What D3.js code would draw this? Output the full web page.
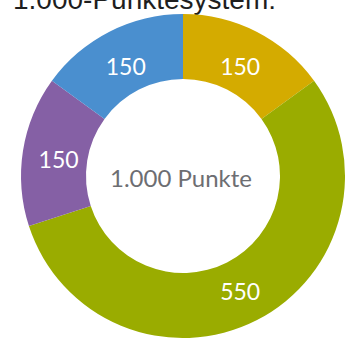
<!DOCTYPE html>
<html>
<head>
<meta charset="utf-8">
<script src="https://cdn.jsdelivr.net/npm/d3@7"></script>
<style>
  html, body { margin: 0; padding: 0; background: #fff; overflow: hidden; }
</style>
</head>
<body>
<div id="chart"></div>
<script>
// Punkteverteilung
const categories = ["A", "B", "C", "D"];
const values = [150, 550, 150, 150];
const colors = ["#d4ab00", "#9aac00", "#8560a5", "#4a8fcf"];
const title = "1.000-Punktesystem:";
const centerLabel = "1.000 Punkte";

const width = 345, height = 338;
const cx = 183, cy = 176;
const outerR = 162, innerR = 97;

const svg = d3.select("#chart").append("svg")
  .attr("width", width)
  .attr("height", height);

// title is cropped at the top edge, as in the source image
svg.append("text")
  .attr("x", 13)
  .attr("y", 9)
  .style("font-family", "Liberation Sans, Arial, sans-serif")
  .style("font-size", "28px")
  .style("fill", "#1e1e1e")
  .text(title);

const pie = d3.pie().sort(null).value(function (d) { return d; });
const arc = d3.arc().innerRadius(innerR).outerRadius(outerR);
const labelArc = d3.arc().innerRadius(126).outerRadius(126);

const g = svg.append("g")
  .attr("transform", "translate(" + cx + "," + cy + ")");

const arcs = pie(values);

g.selectAll("path")
  .data(arcs)
  .enter().append("path")
  .attr("d", arc)
  .attr("fill", function (d, i) { return colors[i]; });

g.selectAll("text.val")
  .data(arcs)
  .enter().append("text")
  .attr("class", "val")
  .attr("transform", function (d) { return "translate(" + labelArc.centroid(d) + ")"; })
  .attr("text-anchor", "middle")
  .attr("dy", "0.5em")
  .style("font-family", "Lato, sans-serif")
  .style("font-size", "23px")
  .style("fill", "#fff")
  .text(function (d) { return d.data; });

g.append("text")
  .attr("text-anchor", "middle")
  .attr("x", -2)
  .attr("y", 11)
  .style("font-family", "Lato, sans-serif")
  .style("font-size", "24px")
  .style("fill", "#6d6e72")
  .text(centerLabel);
</script>
</body>
</html>
